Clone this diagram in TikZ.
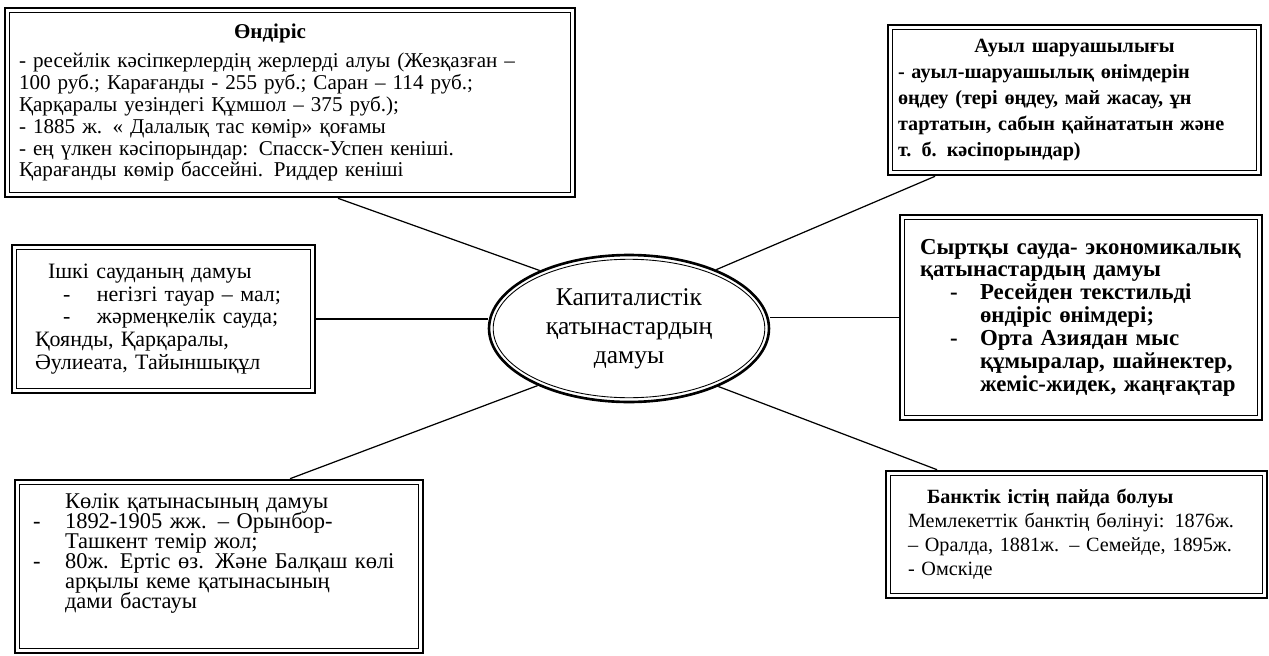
\documentclass[tikz,border=0pt]{standalone}
\usepackage{fontspec}
\setmainfont{Liberation Serif}
\usetikzlibrary{shapes.geometric}
\newcommand{\dashln}[3]{\hspace*{#1}\makebox[#2][l]{-}#3}
\newcommand{\tightlines}{\lineskiplimit=-100pt\relax}
\tikzset{
  panel/.style={
    draw, line width=1.5pt, align=left, inner ysep=0pt,
    path picture={\draw[line width=0.5pt]
      ([shift={(2.4pt,-2.4pt)}]path picture bounding box.north west) rectangle
      ([shift={(-2.4pt,2.4pt)}]path picture bounding box.south east);}
  },
  hub/.style={
    ellipse, draw, line width=1.5pt, inner sep=0pt, align=center,
    minimum width=5.6cm, minimum height=2.94cm,
    font=\fontsize{14.5}{16.5}\selectfont,
    path picture={\draw[line width=0.5pt]
      (path picture bounding box.center) ellipse [x radius=77.3pt, y radius=39.4pt];}
  },
  spoke/.style={draw, line width=0.7pt}
}

\begin{document}
\begin{tikzpicture}[x=0.02cm, y=-0.02cm]
  \useasboundingbox (0,0) rectangle (1269,656);

  % ---- Centre ----------------------------------------------------------------
  \node[hub] (core) at (629,328.5) {Капиталистік\\қатынастардың\\дамуы};

  % ---- Panels ----------------------------------------------------------------
  \node[panel, minimum width=11.4cm, minimum height=3.78cm, inner xsep=0.28cm,
        text width=10.84cm, font=\fontsize{12}{12.4}\selectfont] (prod) at (290,102.5)
    {\hspace*{4.3cm}\textbf{Өндіріс}\\[4.5pt]
     - ресейлік кәсіпкерлердің жерлерді алуы (Жезқазған –\\
     100 руб.; Карағанды - 255 руб.; Саран – 114 руб.;\\
     Қарқаралы уезіндегі Құмшол – 375 руб.);\\
     - 1885 ж. « Далалық тас көмір» қоғамы\\
     - ең үлкен кәсіпорындар: Спасск-Успен кеніші.\\
     Қарағанды көмір бассейні. Риддер кеніші};

  \node[panel, minimum width=7.46cm, minimum height=3.0cm, inner xsep=0.2cm,
        text width=7.06cm, font=\fontsize{11.5}{14.8}\selectfont\bfseries] (agri) at (1074.5,100)
    {\makebox[\linewidth]{Ауыл шаруашылығы}\\
     - ауыл-шаруашылық өнімдерін\\
     өңдеу (тері өңдеу, май жасау, ұн\\
     тартатын, сабын қайнататын және\\
     т. б. кәсіпорындар)};

  \node[panel, minimum width=6.06cm, minimum height=2.96cm, inner xsep=0.46cm,
        text width=5.14cm, font=\fontsize{12.5}{13}\selectfont] (inner) at (163.5,319)
    {\hspace*{0.26cm}Ішкі сауданың дамуы\\
     \dashln{0.56cm}{0.68cm}{негізгі тауар – мал;}\\
     \dashln{0.56cm}{0.68cm}{жәрмеңкелік сауда;}\\
     Қоянды, Қарқаралы,\\
     Әулиеата, Тайыншықұл};

  \node[panel, minimum width=7.24cm, minimum height=4.1cm, inner xsep=0.4cm,
        text width=6.44cm, font=\fontsize{13}{13}\selectfont\bfseries] (trade) at (1081,317.5)
    {Сыртқы сауда- экономикалық\\
     қатынастардың дамуы\\
     \dashln{0.6cm}{0.6cm}{Ресейден текстильді}\\
     \hspace*{1.2cm}өндіріс өнімдері;\\
     \dashln{0.6cm}{0.6cm}{Орта Азиядан мыс}\\
     \hspace*{1.2cm}құмыралар, шайнектер,\\
     \hspace*{1.2cm}жеміс-жидек, жаңғақтар};

  \node[panel, minimum width=8.16cm, minimum height=3.46cm, inner xsep=0.36cm,
        text width=7.44cm,
        font={\fontsize{12.8}{11.4}\selectfont\tightlines}] (transp) at (219,566.5)
    {\hspace*{0.64cm}Көлік қатынасының дамуы\\
     \dashln{0cm}{0.64cm}{1892-1905 жж. – Орынбор-}\\
     \hspace*{0.64cm}Ташкент темір жол;\\
     \dashln{0cm}{0.64cm}{80ж. Ертіс өз. Және Балқаш көлі}\\
     \hspace*{0.64cm}арқылы кеме қатынасының\\
     \hspace*{0.64cm}дами бастауы\\[6pt]\mbox{}};

  \node[panel, minimum width=7.62cm, minimum height=2.54cm, inner xsep=0.44cm,
        text width=6.74cm, font=\fontsize{11.5}{13.6}\selectfont] (bank) at (1076.5,534.5)
    {\hspace*{0.38cm}\textbf{Банктік істің пайда болуы}\\
     Мемлекеттік банктің бөлінуі: 1876ж.\\
     – Оралда, 1881ж. – Семейде, 1895ж.\\
     - Омскіде};

  % ---- Spokes ----------------------------------------------------------------
  \draw[spoke] ([xshift=0.96cm]prod.south) -- (core.147.5);
  \draw[spoke] ([xshift=-2.79cm]agri.south) -- (core.34.3);
  \draw[spoke] (inner.east) -- (inner.east -| core.west);
  \draw[spoke] (core.east |- trade.west) -- (trade.west);
  \draw[spoke] (core.212) -- ([xshift=1.42cm]transp.north);
  \draw[spoke] (core.327) -- ([xshift=-2.79cm]bank.north);

\end{tikzpicture}
\end{document}
